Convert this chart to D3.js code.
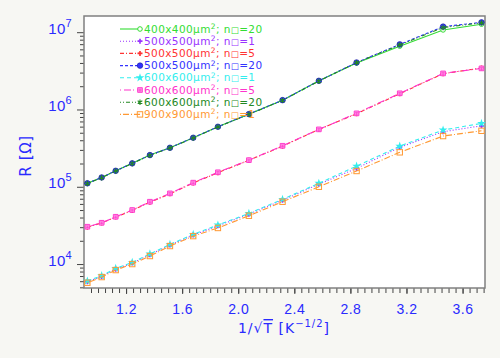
<!DOCTYPE html>
<html>
<head>
<meta charset="utf-8">
<script src="https://d3js.org/d3.v7.min.js"></script>
<style>
  html, body { margin: 0; padding: 0; background: #f7f7f3; }
  svg { display: block; font-family: "DejaVu Sans", Verdana, sans-serif; }
</style>
</head>
<body>
<div id="chart"></div>
<script>
/* Data */
var xValues = [0.924, 1.026, 1.126, 1.244, 1.370, 1.513, 1.679, 1.855, 2.076, 2.316, 2.575, 2.844, 3.152, 3.461, 3.735];

var r400n20 = [1.11e5, 1.32e5, 1.61e5, 2.01e5, 2.57e5, 3.20e5, 4.31e5, 5.98e5, 8.71e5, 1.32e6, 2.35e6, 4.0e6, 6.6e6, 1.07e7, 1.27e7];
var r500n1  = [5.9e3, 6.9e3, 8.6e3, 1.03e4, 1.32e4, 1.76e4, 2.37e4, 3.12e4, 4.42e4, 6.7e4, 1.08e5, 1.73e5, 3.24e5, 5.15e5, 6.15e5];
var r500n5  = [3.0e4, 3.4e4, 4.05e4, 4.95e4, 6.3e4, 8.1e4, 1.12e5, 1.52e5, 2.2e5, 3.35e5, 5.5e5, 8.8e5, 1.6e6, 2.9e6, 3.45e6];
var r500n20 = [1.11e5, 1.32e5, 1.61e5, 2.01e5, 2.57e5, 3.20e5, 4.31e5, 5.98e5, 8.71e5, 1.32e6, 2.35e6, 4.06e6, 6.95e6, 1.18e7, 1.34e7];
var r600n1  = [6.03e3, 7.07e3, 8.8e3, 1.05e4, 1.35e4, 1.80e4, 2.42e4, 3.20e4, 4.53e4, 6.88e4, 1.11e5, 1.85e5, 3.36e5, 5.42e5, 6.61e5];
var r600n5  = [3.04e4, 3.42e4, 4.09e4, 5.0e4, 6.4e4, 8.22e4, 1.13e5, 1.54e5, 2.21e5, 3.39e5, 5.53e5, 8.91e5, 1.62e6, 2.93e6, 3.40e6];
var r600n20 = [1.10e5, 1.31e5, 1.60e5, 2.0e5, 2.55e5, 3.18e5, 4.28e5, 5.95e5, 8.65e5, 1.31e6, 2.33e6, 4.03e6, 6.85e6, 1.15e7, 1.32e7];
var r900n1  = [5.73e3, 6.79e3, 8.36e3, 1.0e4, 1.27e4, 1.71e4, 2.30e4, 2.93e4, 4.22e4, 6.4e4, 1.0e5, 1.6e5, 2.79e5, 4.53e5, 5.30e5];

var seriesSizes = ["400x400", "500x500", "500x500", "500x500", "600x600", "600x600", "600x600", "900x900"];
var seriesN = ["20", "1", "5", "20", "1", "5", "20", "1"];
var seriesValues = [r400n20, r500n1, r500n5, r500n20, r600n1, r600n5, r600n20, r900n1];

var xTickLabels = [1.2, 1.6, 2.0, 2.4, 2.8, 3.2, 3.6];
var yDecades = [1e4, 1e5, 1e6, 1e7];

/* Styles per series */
var colors = ["#33dd33", "#9933ff", "#ff3333", "#3333ff", "#33eeee", "#ff33cc", "#228822", "#ff9933"];
var dashes = ["none", "1,2", "4,2,1,2", "3,2", "4,3", "1,3,7,2", "1,2,1,2,4,2", "1,2,6,2"];

var dimensions = {
  width: 500,
  height: 358,
  margin: { top: 16, right: 15, bottom: 70, left: 84 }
};
dimensions.boundedWidth = dimensions.width - dimensions.margin.left - dimensions.margin.right;
dimensions.boundedHeight = dimensions.height - dimensions.margin.top - dimensions.margin.bottom;

var wrapper = d3.select("#chart")
  .append("svg")
  .attr("width", dimensions.width)
  .attr("height", dimensions.height);

var bounds = wrapper.append("g")
  .attr("transform", `translate(${dimensions.margin.left},${dimensions.margin.top})`);

// scales
var xScale = d3.scaleLinear()
  .domain([0.90, 3.76])
  .range([0, dimensions.boundedWidth]);
var yScale = d3.scaleLog()
  .domain([4900, 1.62e7])
  .range([dimensions.boundedHeight, 0]);

// plot area
bounds.append("rect")
  .attr("width", dimensions.boundedWidth)
  .attr("height", dimensions.boundedHeight)
  .attr("fill", "#ffffff");

// axes
var axisColor = "#444";
var textBlue = "#2a2aff";

var minorY = [];
[1e3, 1e4, 1e5, 1e6, 1e7].forEach(function (d) {
  for (var k = 2; k <= 9; k++) {
    var v = d * k;
    if (v > yScale.domain()[0] && v < yScale.domain()[1]) minorY.push(v);
  }
});

var yMinor = bounds.append("g")
  .call(d3.axisLeft(yScale).tickValues(minorY).tickSize(4).tickFormat(""));
var yMajor = bounds.append("g")
  .call(d3.axisLeft(yScale).tickValues(yDecades).tickSize(7).tickFormat(""));

yMajor.selectAll(".tick").each(function (d) {
  var t = d3.select(this).append("text")
    .attr("x", -12)
    .attr("y", 1)
    .attr("fill", textBlue)
    .attr("text-anchor", "end")
    .style("font-size", "15px")
    .style("letter-spacing", "0.3px");
  t.append("tspan").text("10");
  t.append("tspan").attr("dy", -7).style("font-size", "11px").text(Math.round(Math.log10(d)));
});

var minorX = d3.range(0.95, 3.76, 0.05);
var xMinor = bounds.append("g")
  .attr("transform", `translate(0,${dimensions.boundedHeight})`)
  .call(d3.axisBottom(xScale).tickValues(minorX).tickSize(5).tickFormat(""));
var xMajor = bounds.append("g")
  .attr("transform", `translate(0,${dimensions.boundedHeight})`)
  .call(d3.axisBottom(xScale).tickValues(xTickLabels).tickSize(6).tickPadding(10).tickFormat(d3.format(".1f")));
xMajor.selectAll("text")
  .attr("fill", textBlue)
  .style("font-size", "14px")
  .style("letter-spacing", "0.5px");

[yMinor, yMajor, xMinor, xMajor].forEach(function (g) {
  g.select(".domain").remove();
  g.selectAll("line").attr("stroke", axisColor);
});

// frame
bounds.append("rect")
  .attr("width", dimensions.boundedWidth)
  .attr("height", dimensions.boundedHeight)
  .attr("fill", "none")
  .attr("stroke", "#808080")
  .attr("stroke-width", 1.5);

// axis titles
var xTitle = wrapper.append("text")
  .attr("x", 284)
  .attr("y", 333)
  .attr("text-anchor", "middle")
  .attr("fill", textBlue)
  .style("font-size", "14px")
  .style("letter-spacing", "1px");
xTitle.append("tspan").text("1/\u221A");
xTitle.append("tspan").style("text-decoration", "overline").text("T");
xTitle.append("tspan").text(" [K");
xTitle.append("tspan").attr("dy", -6).style("font-size", "10px").text("\u22121/2");
xTitle.append("tspan").attr("dy", 6).text("]");

wrapper.append("text")
  .attr("transform", "translate(31,156) rotate(-90)")
  .attr("text-anchor", "middle")
  .attr("fill", textBlue)
  .style("font-size", "15px")
  .style("letter-spacing", "0.6px")
  .text("R [\u03A9]");

// markers
function drawMarker(sel, i) {
  var c = colors[i];
  if (i === 0) {
    sel.append("circle").attr("r", 2.3).attr("fill", "#fff").attr("stroke", c).attr("stroke-width", 1);
  } else if (i === 1 || i === 2) {
    sel.append("path").attr("d", d3.symbol().type(d3.symbolCross).size(14)()).attr("fill", c);
  } else if (i === 3) {
    sel.append("circle").attr("r", 2.8).attr("fill", c).attr("stroke", "#1a1a99").attr("stroke-width", 0.6);
  } else if (i === 4) {
    sel.append("path").attr("d", d3.symbol().type(d3.symbolStar).size(24)()).attr("fill", c);
  } else if (i === 5) {
    sel.append("path").attr("d", d3.symbol().type(d3.symbolSquare).size(22)()).attr("fill", "#ffa0e6").attr("stroke", c).attr("stroke-width", 0.9);
    sel.append("path").attr("d", "M-1.6,-0.8H1.6M-1.6,0.8H1.6M0,-0.8V1.6").attr("stroke", c).attr("stroke-width", 0.6);
  } else if (i === 6) {
    sel.append("path").attr("d", d3.symbol().type(d3.symbolAsterisk || d3.symbolCross).size(20)())
      .attr("fill", "none").attr("stroke", c).attr("stroke-width", 1.1);
  } else {
    sel.append("rect").attr("x", -2.7).attr("y", -2.7).attr("width", 5.4).attr("height", 5.4)
      .attr("fill", "none").attr("stroke", c).attr("stroke-width", 1);
  }
}

// series
var lineGenerator = d3.line()
  .x(function (d) { return xScale(d.x); })
  .y(function (d) { return yScale(d.y); });

seriesValues.forEach(function (vals, i) {
  var pts = vals.map(function (v, j) { return { x: xValues[j], y: v }; });
  var g = bounds.append("g");
  g.append("path")
    .attr("d", lineGenerator(pts))
    .attr("fill", "none")
    .attr("stroke", colors[i])
    .attr("stroke-width", 1.1)
    .attr("stroke-dasharray", dashes[i]);
  g.selectAll(".pt")
    .data(pts)
    .join("g")
    .attr("class", "pt")
    .attr("transform", function (d) { return `translate(${xScale(d.x)},${yScale(d.y)})`; })
    .each(function () { drawMarker(d3.select(this), i); });
});

// legend
var legend = wrapper.append("g");
seriesValues.forEach(function (vals, i) {
  var y = 29 + i * 12.2;
  var row = legend.append("g").attr("transform", `translate(0,${y})`);
  row.append("line")
    .attr("x1", 120).attr("x2", 140)
    .attr("stroke", colors[i])
    .attr("stroke-width", 1.1)
    .attr("stroke-dasharray", dashes[i]);
  var m = row.append("g").attr("transform", "translate(140,0)");
  drawMarker(m, i);
  var t = row.append("text")
    .attr("x", 144)
    .attr("y", 3.5)
    .attr("fill", colors[i])
    .style("font-size", "10.5px")
    .style("letter-spacing", "0.4px");
  t.append("tspan").text(seriesSizes[i] + "\u03BCm");
  t.append("tspan").attr("dy", -3.5).style("font-size", "7.5px").text("2");
  t.append("tspan").attr("dy", 3.5).text("; n");
  t.append("tspan").style("font-size", "8.5px").text("\u25A1");
  t.append("tspan").text("=" + seriesN[i]);
});
</script>
</body>
</html>
